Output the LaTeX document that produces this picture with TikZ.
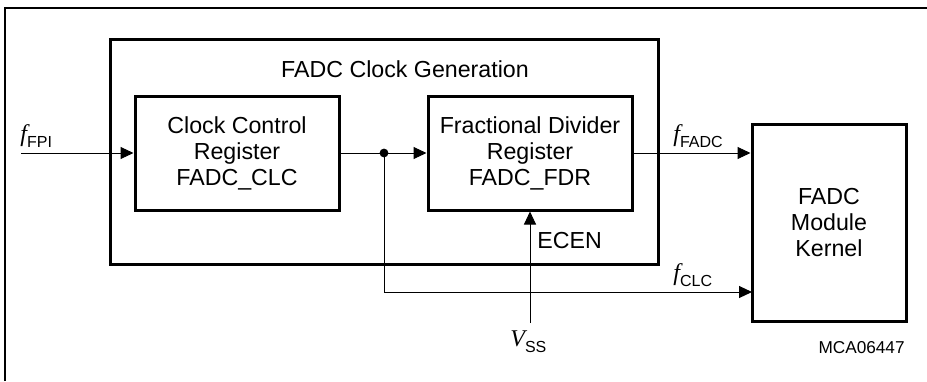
\documentclass[tikz,border=0pt]{standalone}
\usepackage{fontspec}
\setmainfont{Liberation Sans}
\newfontfamily\sigfont{Liberation Serif}
\usetikzlibrary{arrows.meta,positioning}
\newcommand{\sig}[2]{{\sigfont\itshape\fontsize{12}{12}\selectfont #1}\raisebox{-3pt}{\fontsize{8}{8}\selectfont #2}}

\begin{document}
\begin{tikzpicture}[x=0.5pt,y=-0.5pt,>={Triangle[length=6.5pt,width=6pt]},
    reg/.style={draw,line width=1.5pt,minimum width=102pt,minimum height=57pt,align=center,font=\fontsize{11.6}{13}\selectfont},
    sigline/.style={line width=0.5pt},
    lbl/.style={inner sep=0pt,font=\fontsize{11.6}{13}\selectfont}]
        \useasboundingbox (0,0) rectangle (927,381);
        \draw[line width=0.6pt] (5,381) -- (5,8) -- (927,8);
        \node[draw,line width=1.5pt,minimum width=274pt,minimum height=112.5pt] (gen) at (384,151.5) {};
        \node[lbl,anchor=base] (gentitle) at (405,77) {FADC Clock Generation};
        \node[reg] (clc) at (237,153) {Clock Control\\Register\\FADC\_CLC};
        \node[reg] (fdr) at (530,153) {Fractional Divider\\Register\\FADC\_FDR};
        \node[reg,minimum width=77pt,minimum height=98.5pt] (kernel) at (829,222.5) {FADC\\Module\\Kernel};
        \coordinate (fpi) at (21,153);
        \coordinate (split) at (384,153);
        \coordinate (vss) at (530,323);
        \coordinate (clcin) at (752,292);
        \draw[sigline,->] (fpi) -- (clc);
        \draw[sigline] (clc) -- (split);
        \draw[sigline,->] (split) -- (fdr);
        \fill (split) circle[radius=2.2pt];
        \draw[sigline,->] (fdr) -- (fdr -| kernel.west);
        \draw[sigline,->] (split) |- (clcin);
        \draw[sigline,->] (vss) -- (fdr);
        \node[inner sep=0pt,anchor=base west] (lfpi) at (20,141) {\sig{f}{FPI}};
        \node[inner sep=0pt,anchor=base west] (lfadc) at (673,141) {\sig{f}{FADC}};
        \node[inner sep=0pt,anchor=base west] (lclc) at (673,280) {\sig{f}{CLC}};
        \node[inner sep=0pt,anchor=base west] (lvss) at (510,346) {\sig{V}{SS}};
        \node[lbl,anchor=base west] (lecen) at (537,248) {ECEN};
        \node[inner sep=0pt,anchor=base east,font=\fontsize{8.6}{9}\selectfont] (fig) at (905,353) {MCA06447};
      \end{tikzpicture}
\end{document}
